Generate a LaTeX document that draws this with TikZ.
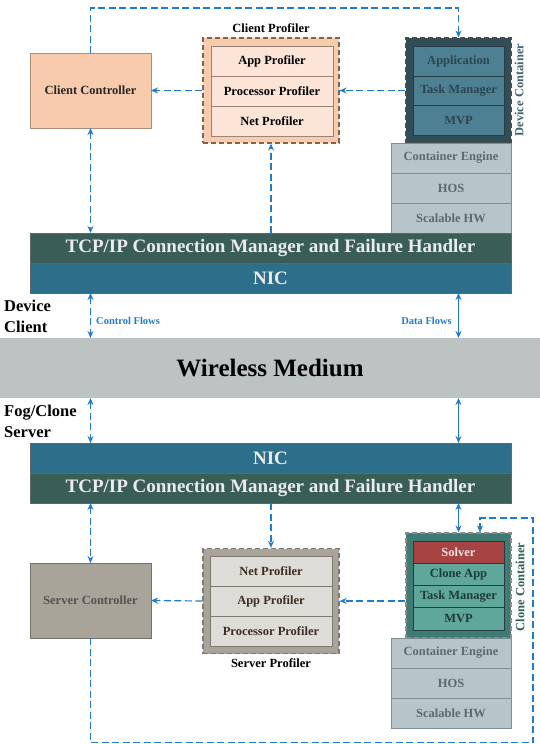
\documentclass[tikz,border=0pt]{standalone}
\usepackage{fontspec}
\setmainfont{Liberation Serif}
\usetikzlibrary{positioning,arrows.meta}
\definecolor{peach}{HTML}{F8CBAD}
\definecolor{peachlight}{HTML}{FCE4D6}
\definecolor{peachline}{HTML}{7A6656}
\definecolor{devdark}{HTML}{2F4E57}
\definecolor{devrow}{HTML}{4E8093}
\definecolor{devtext}{HTML}{2B4651}
\definecolor{devline}{HTML}{263C44}
\definecolor{devlabel}{HTML}{3D6373}
\definecolor{stackfill}{HTML}{B7C5CB}
\definecolor{stackline}{HTML}{7F8E94}
\definecolor{stacktext}{HTML}{5A6A71}
\definecolor{tcpgreen}{HTML}{3A5E57}
\definecolor{nicblue}{HTML}{2D6E8B}
\definecolor{bartext}{HTML}{E9ECEC}
\definecolor{medium}{HTML}{BDC3C2}
\definecolor{srvgray}{HTML}{A8A49A}
\definecolor{srvlight}{HTML}{DEDCD7}
\definecolor{srvline}{HTML}{7D7970}
\definecolor{srvtext}{HTML}{3A2E24}
\definecolor{clonedark}{HTML}{3E7C73}
\definecolor{clonerow}{HTML}{5FA69B}
\definecolor{clonetext}{HTML}{1D3C37}
\definecolor{clonelabel}{HTML}{2E5E57}
\definecolor{solver}{HTML}{A84343}
\definecolor{solvertext}{HTML}{F3E3E3}
\definecolor{flowblue}{HTML}{1F7BCB}
\tikzset{
    base/.style = {rectangle, inner sep=0pt, outer sep=0pt, align=center, font=\fontsize{12.5}{14}\selectfont\bfseries},
    ctrl-box/.style = {base, draw=#1!70!black, fill=#1, line width=0.6pt, minimum width=121pt, minimum height=75pt},
    prof-outer/.style = {rectangle, draw=#1, fill=#1!60!white, line width=1.2pt, dash pattern=on 5pt off 3pt, minimum width=136pt, minimum height=105pt},
    prof-row/.style = {base, draw=#1, line width=0.6pt, minimum width=122pt, minimum height=30pt},
    cont-outer/.style = {rectangle, draw=black!70, fill=#1, line width=1.2pt, dash pattern=on 5pt off 3pt, minimum width=105pt, minimum height=105pt},
    cont-row/.style = {base, draw=devline, line width=0.6pt, minimum width=91pt},
    stack-row/.style = {base, draw=stackline, fill=stackfill, text=stacktext, line width=0.6pt, minimum width=120pt, minimum height=30pt},
    bar/.style = {base, fill=#1, text=bartext, draw=black!60, line width=0.5pt, font=\fontsize{19}{22}\selectfont\bfseries, minimum width=481pt, minimum height=30pt},
    side-label/.style = {align=left, inner sep=0pt, font=\fontsize{16.5}{21}\selectfont\bfseries},
    flow-label/.style = {inner sep=0pt, text=flowblue, font=\fontsize{10.5}{12}\selectfont\bfseries},
    flow/.style = {draw=flowblue, line width=1.2pt, dash pattern=on 7pt off 3.5pt},
    data/.style = {draw=flowblue, line width=1.2pt},
    >={Stealth[length=7pt,width=6pt]},
}
\begin{document}
\begin{tikzpicture}[x=1pt,y=-1pt]
\useasboundingbox (0,0) rectangle (540,744);

% device client side
\node[ctrl-box=peach, text=black!85] (ctrlC) at (90.5,90.5) {Client Controller};

\node[prof-outer=peachline, fill=peach] (profC) at (271,90.5) {};
\node[prof-row=peachline!80, fill=peachlight] (appC) at (272,61) {App Profiler};
\node[prof-row=peachline!80, fill=peachlight, below=0pt of appC] (procC) {Processor Profiler};
\node[prof-row=peachline!80, fill=peachlight, below=0pt of procC] (netC) {Net Profiler};
\node[base] at (271,28) {Client Profiler};

\node[cont-outer=devdark] (devC) at (458.5,90.5) {};
\node[cont-row, fill=devrow, text=devtext, minimum height=29.7pt] (appD) at (458.5,61) {Application};
\node[cont-row, fill=devrow, text=devtext, minimum height=29.7pt, below=0pt of appD] (taskD) {Task Manager};
\node[cont-row, fill=devrow, text=devtext, minimum height=29.7pt, below=0pt of taskD] (mvpD) {MVP};
\node[base, rotate=90, text=devlabel] at (519,90) {Device Container};

\node[stack-row] (engC) at (451,158) {Container Engine};
\node[stack-row, below=0pt of engC] (hosC) {HOS};
\node[stack-row, below=0pt of hosC] (hwC) {Scalable HW};

\node[bar=tcpgreen] (tcpU) at (270.5,248) {TCP/IP Connection Manager and Failure Handler};
\node[bar=nicblue, below=0pt of tcpU] (nicU) {NIC};

% medium
\node[base, fill=medium, minimum width=540pt, minimum height=60pt, font=\fontsize{25}{28}\selectfont\bfseries] (wireless) at (270,368) {Wireless Medium};
\node[side-label, anchor=west] at (4,316) {Device\\Client};
\node[side-label, anchor=west] at (4,421) {Fog/Clone\\Server};
\node[flow-label, anchor=west] at (96,321) {Control Flows};
\node[flow-label, anchor=east] at (452,321) {Data Flows};

% fog/clone server side
\node[bar=nicblue] (nicD) at (270.5,458) {NIC};
\node[bar=tcpgreen, below=0pt of nicD] (tcpD) {TCP/IP Connection Manager and Failure Handler};

\node[ctrl-box=srvgray, text=black!68] (srvC) at (90.5,600.5) {Server Controller};

\node[prof-outer=srvline, fill=srvgray] (profS) at (271,601) {};
\node[prof-row=srvline, fill=srvlight, text=srvtext] (netS) at (271,571) {Net Profiler};
\node[prof-row=srvline, fill=srvlight, text=srvtext, below=0pt of netS] (appS) {App Profiler};
\node[prof-row=srvline, fill=srvlight, text=srvtext, below=0pt of appS] (procS) {Processor Profiler};
\node[base] at (271,663) {Server Profiler};

\node[cont-outer=clonedark, draw=black!45] (clnC) at (458.5,585.5) {};
\node[cont-row, fill=solver, text=solvertext, minimum height=22.25pt] (solv) at (458.5,552) {Solver};
\node[cont-row, fill=clonerow, text=clonetext, minimum height=22.25pt, below=0pt of solv] (appK) {Clone App};
\node[cont-row, fill=clonerow, text=clonetext, minimum height=22.25pt, below=0pt of appK] (taskK) {Task Manager};
\node[cont-row, fill=clonerow, text=clonetext, minimum height=22.25pt, below=0pt of taskK] (mvpK) {MVP};
\node[base, rotate=90, text=clonelabel] at (520,587) {Clone Container};

\node[stack-row] (engS) at (451,653) {Container Engine};
\node[stack-row, below=0pt of engS] (hosS) {HOS};
\node[stack-row, below=0pt of hosS] (hwS) {Scalable HW};

% flows on the client
\coordinate (topY) at (0,8);
\draw[flow,->] (ctrlC.north) -- (ctrlC.north |- topY) -| (devC.north);
\draw[flow,->] (devC.west) -- (profC.east);
\draw[flow,->] (profC.west) -- (ctrlC.east);
\draw[flow,<->] (ctrlC.south) -- (ctrlC.south |- tcpU.north);
\draw[flow,->] (profC.south |- tcpU.north) -- (profC.south);
\draw[flow,<->] (nicU.south -| ctrlC) -- (wireless.north -| ctrlC);
\draw[data,<->] (nicU.south -| devC) -- (wireless.north -| devC);

% flows on the server
\draw[flow,<->] (wireless.south -| srvC) -- (nicD.north -| srvC);
\draw[data,<->] (wireless.south -| clnC) -- (nicD.north -| clnC);
\draw[flow,<->] (tcpD.south -| srvC) -- (srvC.north);
\draw[flow,->] (tcpD.south -| profS) -- (profS.north);
\draw[data,<->] (tcpD.south -| clnC) -- (clnC.north);
\draw[flow,->] (clnC.west |- profS) -- (profS.east);
\draw[flow,->] (profS.west) -- (srvC.east);
\coordinate (botY) at (533,742.5);
\coordinate (sideY) at (533,518);
\draw[flow,->] (srvC.south) |- (botY) -- (sideY) -| ([xshift=21.5pt]clnC.north);
\end{tikzpicture}
\end{document}
